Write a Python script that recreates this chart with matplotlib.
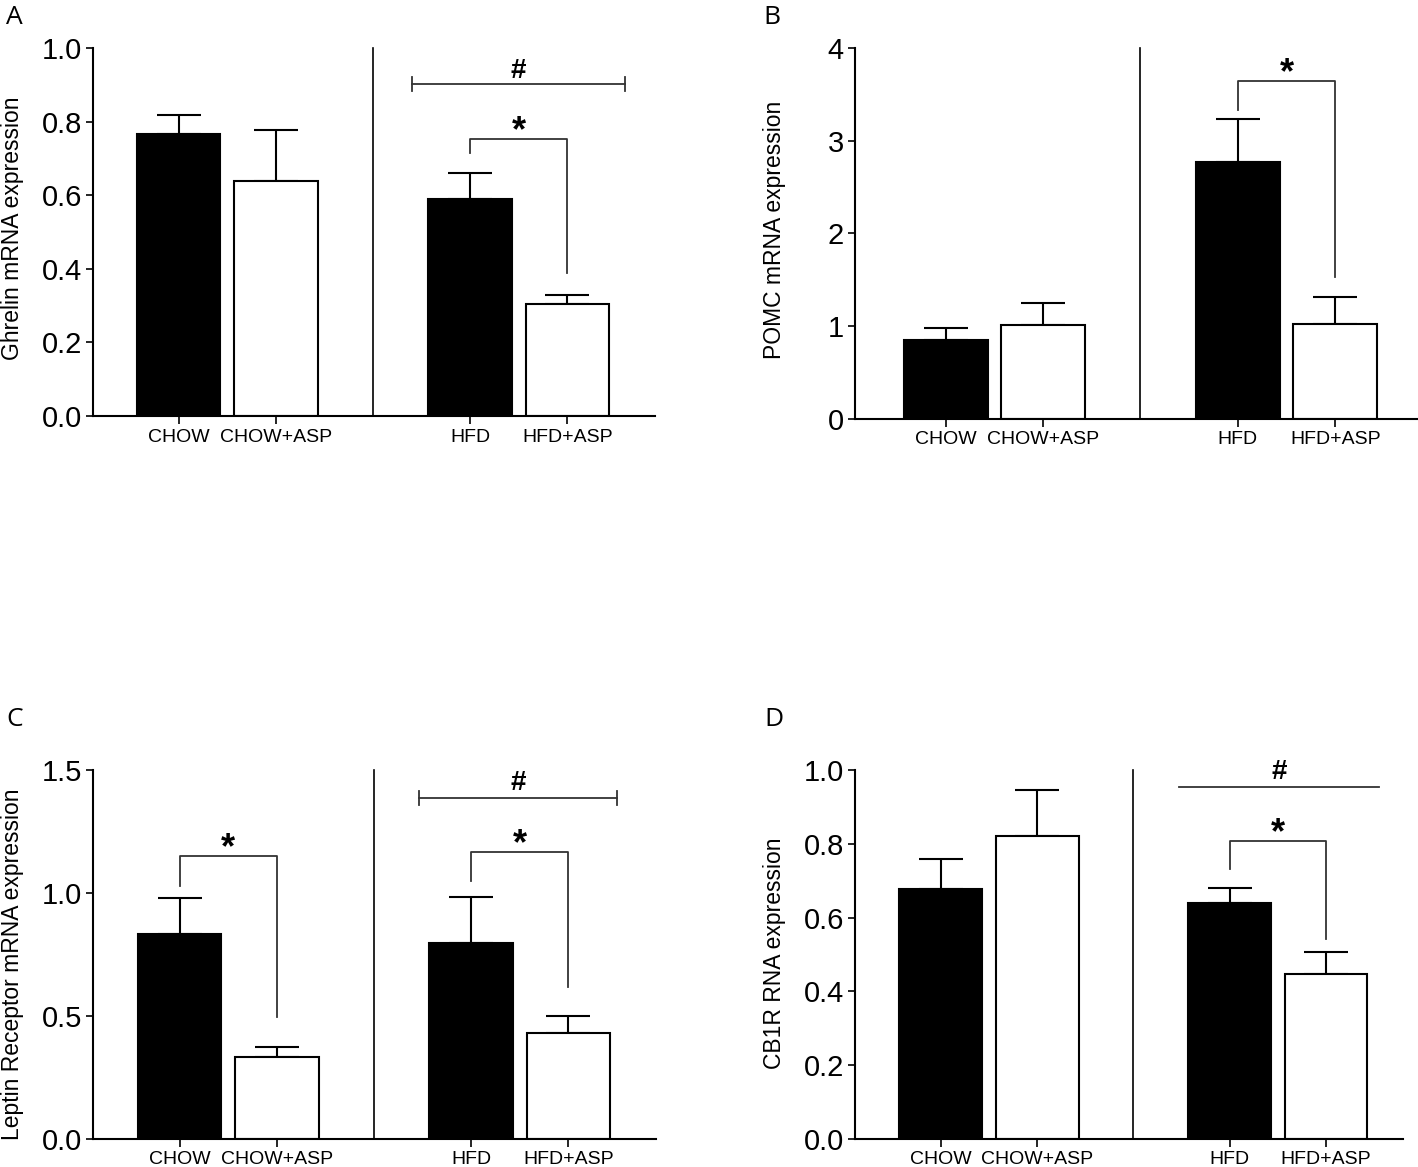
import matplotlib
matplotlib.use("Agg")
import matplotlib.pyplot as plt

# groups and bar values (mean, upper error)
GROUPS = ["CHOW", "CHOW+ASP", "HFD", "HFD+ASP"]
POS = [0, 1, 3, 4]

ghrelin_mean = [0.766, 0.639, 0.59, 0.304]
ghrelin_err = [0.052, 0.138, 0.07, 0.026]

pomc_mean = [0.85, 1.01, 2.77, 1.02]
pomc_err = [0.13, 0.24, 0.46, 0.29]

leptin_mean = [0.833, 0.333, 0.797, 0.431]
leptin_err = [0.147, 0.041, 0.187, 0.069]

cb1r_mean = [0.677, 0.821, 0.64, 0.447]
cb1r_err = [0.081, 0.124, 0.04, 0.06]

TICK_FONT = ["Liberation Sans", "DejaVu Sans"]
LABEL_FONT = ["Liberation Sans", "DejaVu Sans"]
COLORS = ["black", "white", "black", "white"]
W, H = 1418, 1167


def draw_panel(ax, means, errs, yticks, fmt, xlim):
    ax.bar(POS, means, width=0.86, color=COLORS, edgecolor="black", linewidth=1.5, zorder=2)
    ax.errorbar(POS, means, yerr=[[0] * 4, errs], fmt="none", ecolor="black",
                elinewidth=1.5, capsize=16, capthick=1.5, zorder=1)
    top = yticks[-1]
    ax.plot([2, 2], [0, top], color="black", lw=1.2, clip_on=False)
    ax.set_xlim(*xlim)
    ax.set_ylim(0, top)
    ax.set_yticks(yticks)
    ax.set_yticklabels([fmt.format(t) for t in yticks], family=TICK_FONT, fontsize=21)
    ax.set_xticks(POS)
    ax.set_xticklabels(GROUPS, family=TICK_FONT, fontsize=14)
    ax.tick_params(axis="y", length=5, width=1.2, pad=3)
    ax.tick_params(axis="x", length=6, width=1.2, pad=3)
    for s in ("top", "right"):
        ax.spines[s].set_visible(False)
    for s in ("left", "bottom"):
        ax.spines[s].set_linewidth(1.5)


def bracket(ax, x0, x1, y, y0, y1, dy):
    ax.plot([x0, x0, x1, x1], [y0, y, y, y1], color="#333333", lw=1.3, clip_on=False)
    ax.text((x0 + x1) / 2, y + dy, "*", ha="center", va="center",
            fontsize=26, fontweight="bold", family=LABEL_FONT)


def hash_line(ax, x0, x1, y, dy, caps, cap_h):
    ax.plot([x0, x1], [y, y], color="#333333", lw=1.3, clip_on=False)
    if caps:
        for x in (x0, x1):
            ax.plot([x, x], [y - cap_h, y + cap_h], color="#333333", lw=1.3, clip_on=False)
    ax.text((x0 + x1) / 2, y + dy, "#", ha="center", va="center",
            fontsize=20, fontweight="bold", family=LABEL_FONT)


fig = plt.figure(figsize=(W / 100, H / 100), dpi=100)

ax_a = fig.add_axes([0.0656, 0.6435, 0.3963, 0.3153])
draw_panel(ax_a, ghrelin_mean, ghrelin_err, [0.0, 0.2, 0.4, 0.6, 0.8, 1.0], "{:.1f}", (-0.88, 4.9))
hash_line(ax_a, 2.4, 4.59, 0.902, 0.035, True, 0.02)
bracket(ax_a, 3, 4, 0.753, 0.715, 0.389, 0.02)

ax_b = fig.add_axes([0.603, 0.641, 0.397, 0.318])
draw_panel(ax_b, pomc_mean, pomc_err, [0, 1, 2, 3, 4], "{:d}", (-0.93, 4.85))
bracket(ax_b, 3, 4, 3.64, 3.33, 1.53, 0.08)

ax_c = fig.add_axes([0.0656, 0.024, 0.397, 0.3162])
draw_panel(ax_c, leptin_mean, leptin_err, [0.0, 0.5, 1.0, 1.5], "{:.1f}", (-0.89, 4.9))
hash_line(ax_c, 2.46, 4.5, 1.386, 0.06, True, 0.03)
bracket(ax_c, 0, 1, 1.15, 1.03, 0.496, 0.03)
bracket(ax_c, 3, 4, 1.167, 1.05, 0.618, 0.03)

ax_d = fig.add_axes([0.603, 0.024, 0.3865, 0.3162])
draw_panel(ax_d, cb1r_mean, cb1r_err, [0.0, 0.2, 0.4, 0.6, 0.8, 1.0], "{:.1f}", (-0.89, 4.8))
hash_line(ax_d, 2.47, 4.55, 0.954, 0.04, False, 0)
bracket(ax_d, 3, 4, 0.808, 0.732, 0.542, 0.02)

# y-axis titles, placed by pixel centre like the original layout
for x, y, label in [(13, 228, "Ghrelin mRNA expression"),
                    (774, 230, "POMC mRNA expression"),
                    (13, 964, "Leptin Receptor mRNA expression"),
                    (774, 953, "CB1R RNA expression")]:
    fig.text(x / W, 1 - y / H, label, rotation=90, ha="center", va="center",
             fontsize=16.5, family=LABEL_FONT)

for x, y, letter in [(6, 18, "A"), (763, 18, "B"), (6, 720, "C"), (764, 720, "D")]:
    fig.text(x / W, 1 - y / H, letter, fontsize=19,
             family=["Open Sans", "DejaVu Sans"], va="center")

fig.savefig("out.png", dpi=100)
